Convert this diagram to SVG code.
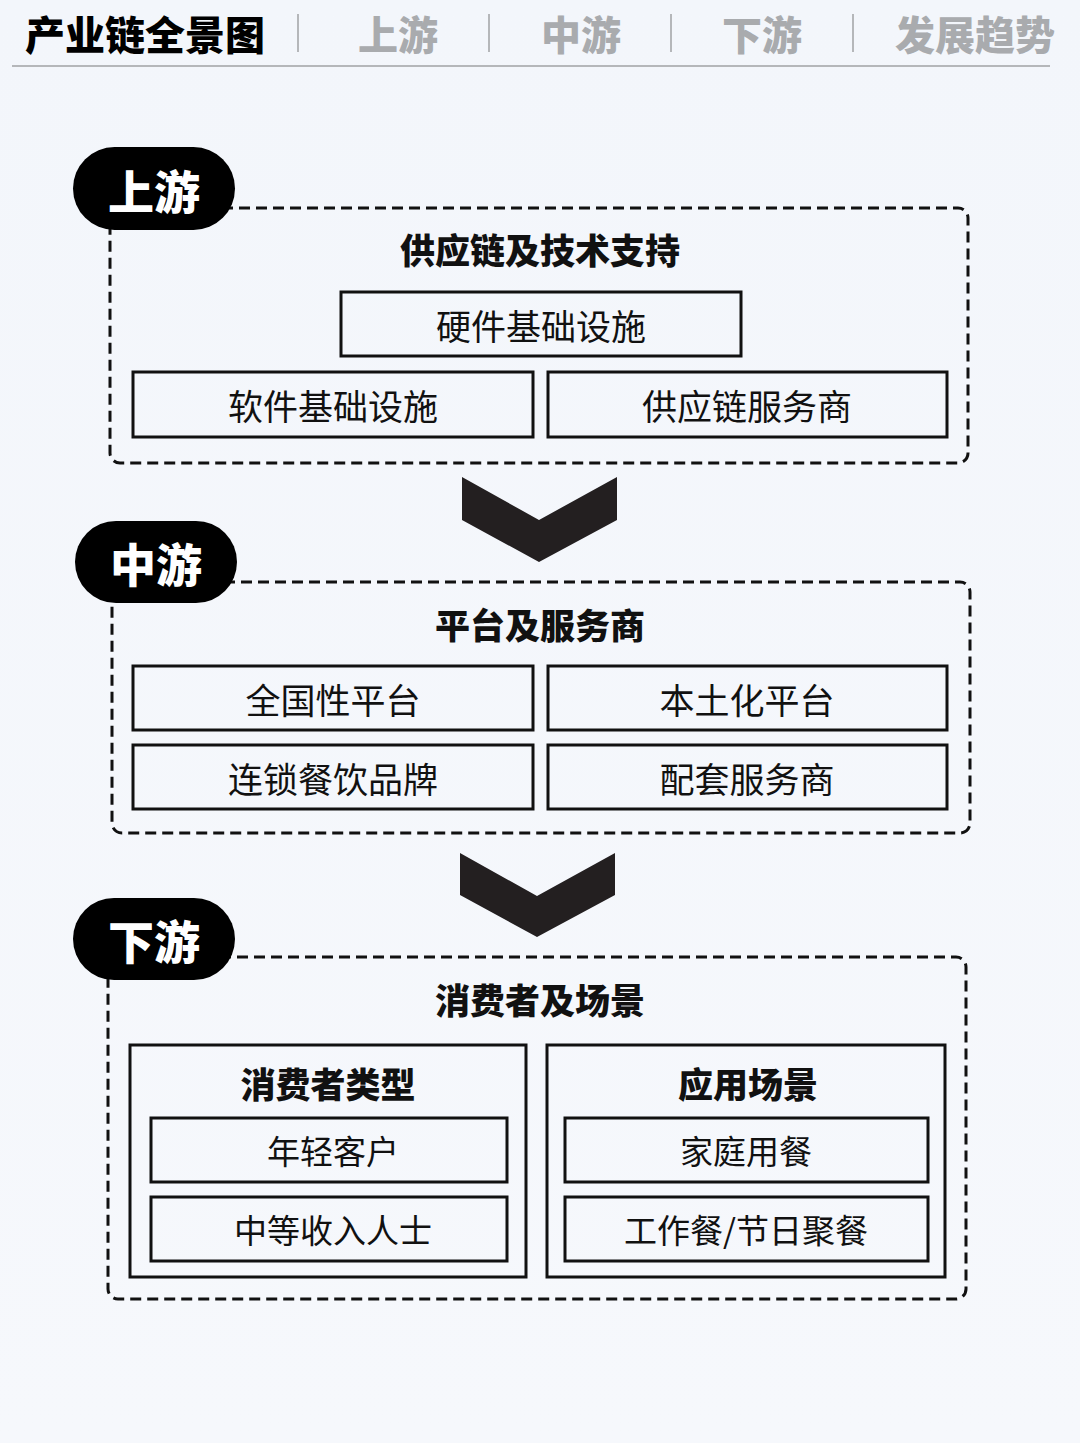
<svg xmlns="http://www.w3.org/2000/svg" width="1080" height="1443" viewBox="0 0 1080 1443">
<defs>
<linearGradient id="bg" x1="0" y1="0" x2="0" y2="1">
<stop offset="0" stop-color="#f3f6fb"/>
<stop offset="1" stop-color="#f6f8fc"/>
</linearGradient>
<style>
text{font-family:"Noto Sans CJK SC","Noto Sans",sans-serif;text-anchor:middle;dominant-baseline:central}
.hd{font-size:40px;font-weight:900}
.tab{font-size:40px;font-weight:900;fill:#a9abae}
.sep{stroke:#b5b7ba;stroke-width:2}
.pill{fill:#000}
.pt{font-size:46px;font-weight:900;fill:#fff}
.dash{fill:none;stroke:#111;stroke-width:3;stroke-dasharray:11 6}
.box{fill:none;stroke:#111;stroke-width:3}
.st{font-size:35px;font-weight:900;fill:#111}
.lb{font-size:35px;font-weight:400;fill:#111}
.lb2{font-size:33px;font-weight:400;fill:#111}
.chev{fill:#231f20}
</style>
</defs>
<rect width="1080" height="1443" fill="url(#bg)"/>
<g id="header">
<text class="hd" x="145" y="33">产业链全景图</text>
<line class="sep" x1="298" y1="14" x2="298" y2="52"/>
<text class="tab" x="398" y="33">上游</text>
<line class="sep" x1="489" y1="14" x2="489" y2="52"/>
<text class="tab" x="581" y="33">中游</text>
<line class="sep" x1="671" y1="14" x2="671" y2="52"/>
<text class="tab" x="762" y="33">下游</text>
<line class="sep" x1="853" y1="14" x2="853" y2="52"/>
<text class="tab" x="975" y="33">发展趋势</text>
<line x1="12" y1="66" x2="1050" y2="66" stroke="#b5b7ba" stroke-width="2"/>
</g>
<g id="upstream">
<rect class="dash" x="110" y="208" width="858" height="255" rx="10"/>
<rect class="pill" x="73" y="147" width="162" height="83" rx="41.5"/>
<text class="pt" x="154" y="189">上游</text>
<text class="st" x="540" y="248">供应链及技术支持</text>
<g id="u1"><rect class="box" x="341" y="292" width="400" height="64"/><text class="lb" x="541" y="324">硬件基础设施</text></g>
<g id="u2"><rect class="box" x="133" y="372" width="400" height="65"/><text class="lb" x="333" y="404">软件基础设施</text></g>
<g id="u3"><rect class="box" x="548" y="372" width="399" height="65"/><text class="lb" x="747" y="404">供应链服务商</text></g>
</g>
<g id="connectors">
<polygon class="chev" points="462,477 539,520 617,477 617,520 539,562 462,520"/>
<polygon class="chev" points="460,853 537,896 615,853 615,895 537,937 460,895"/>
</g>
<g id="midstream">
<rect class="dash" x="112" y="582" width="858" height="251" rx="10"/>
<rect class="pill" x="75" y="521" width="162" height="82" rx="41"/>
<text class="pt" x="156" y="562">中游</text>
<text class="st" x="540" y="623">平台及服务商</text>
<g id="m1"><rect class="box" x="133" y="666" width="400" height="64"/><text class="lb" x="333" y="698">全国性平台</text></g>
<g id="m2"><rect class="box" x="548" y="666" width="399" height="64"/><text class="lb" x="747" y="698">本土化平台</text></g>
<g id="m3"><rect class="box" x="133" y="745" width="400" height="64"/><text class="lb" x="333" y="777">连锁餐饮品牌</text></g>
<g id="m4"><rect class="box" x="548" y="745" width="399" height="64"/><text class="lb" x="747" y="777">配套服务商</text></g>
</g>
<g id="downstream">
<rect class="dash" x="108" y="957" width="858" height="342" rx="10"/>
<rect class="pill" x="73" y="898" width="162" height="82" rx="41"/>
<text class="pt" x="154" y="939">下游</text>
<text class="st" x="540" y="998">消费者及场景</text>
<g id="d-consumer">
<rect class="box" x="130" y="1045" width="396" height="232"/>
<text class="st" x="328" y="1082">消费者类型</text>
<g id="d1"><rect class="box" x="151" y="1118" width="356" height="64"/><text class="lb2" x="333" y="1150">年轻客户</text></g>
<g id="d2"><rect class="box" x="151" y="1197" width="356" height="64"/><text class="lb2" x="333" y="1229">中等收入人士</text></g>
</g>
<g id="d-scene">
<rect class="box" x="547" y="1045" width="398" height="232"/>
<text class="st" x="748" y="1082">应用场景</text>
<g id="d3"><rect class="box" x="565" y="1118" width="363" height="64"/><text class="lb2" x="746" y="1150">家庭用餐</text></g>
<g id="d4"><rect class="box" x="565" y="1197" width="363" height="64"/><text class="lb2" x="746" y="1229">工作餐/节日聚餐</text></g>
</g>
</g>
</svg>
